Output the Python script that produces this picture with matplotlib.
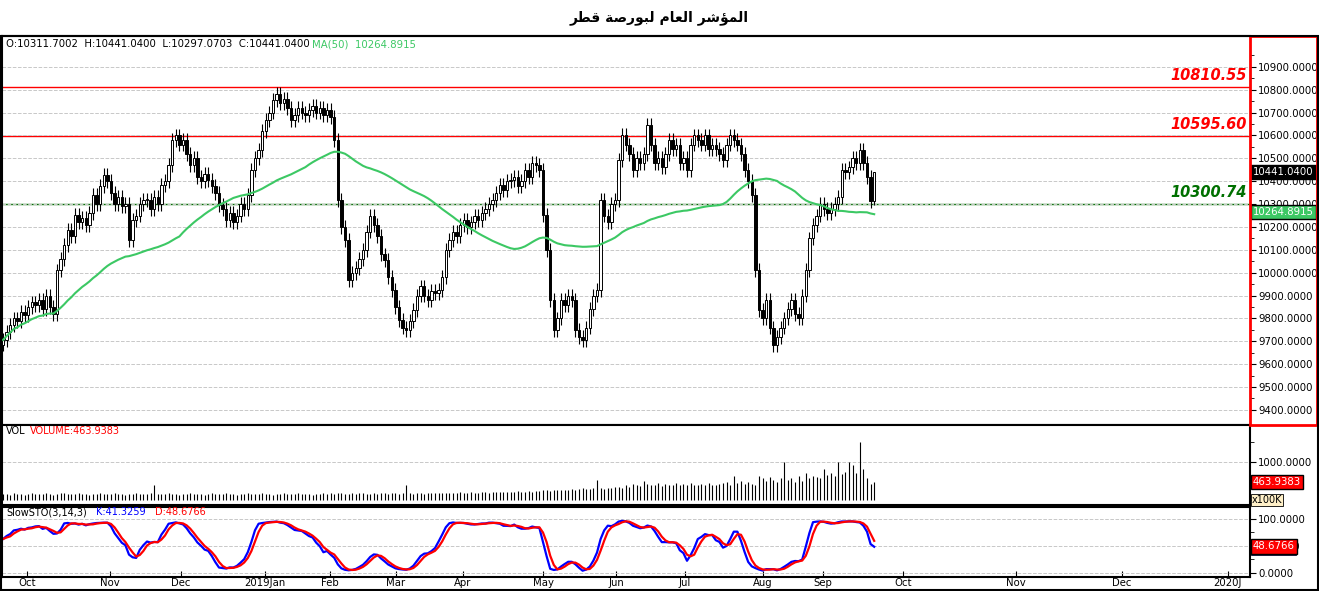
import numpy as np
import pandas as pd
import matplotlib
matplotlib.use("Agg")
import matplotlib.pyplot as plt
from matplotlib.patches import Rectangle

# daily closes, late Sep 2018 -> Sep 2019
closes = [
    9706, 9740, 9770, 9800, 9790, 9830, 9815, 9850, 9870, 9860,
    9880, 9840, 9900, 9850, 9820, 10010, 10060, 10120, 10187, 10160,
    10253, 10220, 10240, 10210, 10260, 10340, 10300, 10380, 10428, 10400,
    10350, 10300, 10330, 10290, 10300, 10143, 10230, 10250, 10300, 10318,
    10320, 10280, 10330, 10300, 10384, 10400, 10470, 10580, 10600, 10560,
    10580, 10520, 10470, 10500, 10420, 10400, 10430, 10406, 10380, 10350,
    10296, 10280, 10230, 10260, 10220, 10250, 10300, 10280, 10340, 10450,
    10500, 10537, 10620, 10668, 10700, 10756, 10780, 10740, 10760, 10720,
    10668, 10690, 10720, 10700, 10690, 10712, 10730, 10700, 10720, 10690,
    10712, 10680, 10580, 10318, 10200, 10143, 9969, 10000, 10020, 10060,
    10100, 10180, 10250, 10210, 10160, 10080, 10056, 9980, 9925, 9850,
    9794, 9760, 9750, 9790, 9838, 9900, 9940, 9900, 9880, 9920,
    9910, 9925, 9980, 10100, 10143, 10180, 10160, 10210, 10230, 10200,
    10220, 10250, 10230, 10260, 10280, 10300, 10318, 10350, 10384, 10360,
    10400, 10406, 10420, 10380, 10400, 10450, 10420, 10480, 10470, 10450,
    10253, 10100, 9881, 9750, 9800, 9880, 9860, 9900, 9880, 9750,
    9720, 9706, 9760, 9840, 9900, 9925, 10318, 10250, 10220, 10300,
    10318, 10493, 10603, 10560, 10520, 10450, 10500, 10480, 10520, 10646,
    10560, 10480, 10500, 10460, 10520, 10580, 10540, 10560, 10480, 10500,
    10450, 10560, 10600, 10580, 10560, 10600, 10540, 10560, 10540, 10520,
    10493, 10560, 10600, 10580, 10560, 10520, 10450, 10400, 10340, 10012,
    9838, 9800, 9880, 9760, 9684, 9720, 9760, 9800, 9840, 9880,
    9820, 9800, 9900, 10012, 10150, 10210, 10250, 10300, 10280, 10260,
    10280, 10300, 10330, 10450, 10440, 10460, 10500, 10480, 10537, 10480,
    10420, 10311.7, 10441.04,
]
volumes = [
    150, 160, 140, 170, 150, 160, 140, 150, 170, 160,
    150, 160, 170, 150, 140, 160, 170, 180, 160, 150,
    160, 170, 150, 160, 140, 150, 160, 170, 150, 160,
    150, 170, 160, 150, 140, 160, 150, 170, 160, 150,
    160, 170, 400, 160, 150, 160, 170, 150, 160, 140,
    150, 160, 170, 150, 160, 150, 140, 160, 170, 150,
    160, 150, 170, 160, 150, 140, 160, 150, 170, 160,
    150, 160, 170, 150, 160, 140, 150, 160, 170, 150,
    160, 150, 170, 160, 150, 160, 140, 150, 160, 170,
    160, 170, 150, 180, 170, 160, 150, 170, 160, 180,
    170, 160, 150, 170, 160, 180, 170, 160, 180, 170,
    160, 180, 400, 170, 160, 180, 170, 160, 180, 170,
    180, 170, 190, 180, 170, 190, 180, 200, 190, 180,
    200, 190, 180, 200, 210, 190, 200, 210, 220, 200,
    210, 220, 200, 230, 210, 220, 230, 220, 240, 230,
    260, 250, 240, 260, 250, 270, 260, 250, 280, 270,
    280, 300, 290, 280, 300, 520, 300, 290, 310, 300,
    330, 350, 320, 400, 340, 420, 380, 360, 500, 420,
    380, 400, 440, 360, 420, 400, 380, 430, 400, 420,
    380, 440, 400, 380, 420, 400, 440, 380, 400, 420,
    440, 480, 400, 620, 450, 500, 420, 460, 420, 400,
    620, 560, 500, 600, 520, 480, 580, 1000, 520, 560,
    480, 620, 500, 700, 560, 620, 600, 560, 800, 640,
    700, 620, 1000, 680, 720, 1000, 900, 700, 1500, 800,
    560, 420, 463.94,
]
month_labels = ["Oct", "Nov", "Dec", "2019Jan", "Feb", "Mar", "Apr", "May", "Jun",
                "Jul", "Aug", "Sep", "Oct", "Nov", "Dec", "2020J"]
month_px = [27, 110, 181, 265, 330, 396, 463, 543, 616, 685, 763, 823, 903, 1016, 1122, 1228]
levels = [10810.55, 10595.60, 10300.74]
level_colors = ["#ff0000", "#ff0000", "#007000"]
TITLE = "ﺮﻄﻗ ﺔﺻﺭﻮﺒﻟ ﻡﺎﻌﻟﺍ ﺮﺷﺆﻤﻟﺍ"

W, H = 1319, 591
STEP = 3.6
n = len(closes)
x = np.arange(n)
c = np.array(closes, dtype=float)
o = np.r_[c[0] - 20, c[:-1]]
hi = np.maximum(o, c) + 30
lo = np.minimum(o, c) - 30
hi[-1], lo[-1] = 10441.04, 10297.07
s = pd.Series(c)
ma = s.rolling(50, min_periods=1).mean().values
ma_last = 10264.8915

hh = pd.Series(hi).rolling(14, min_periods=1).max()
ll = pd.Series(lo).rolling(14, min_periods=1).min()
fast = ((s - ll) / (hh - ll) * 100).fillna(50)
k = fast.rolling(3, min_periods=1).mean()
d = k.rolling(3, min_periods=1).mean()

def px2x(p):
    return (p - 3) / STEP

xmin, xmax = px2x(2), px2x(1250)
FS = 7.3

fig = plt.figure(figsize=(W / 100, H / 100), dpi=100)
fig.patch.set_facecolor("white")

def mk(top, bottom):
    return fig.add_axes([2 / W, 1 - bottom / H, 1248 / W, (bottom - top) / H])

ax = mk(36, 425)
axv = mk(425, 505)
axs = mk(507, 577)

for a in (ax, axv, axs):
    a.set_xlim(xmin, xmax)
    a.yaxis.tick_right()
    a.tick_params(axis="y", direction="out", length=4, labelsize=FS, pad=2)
    a.set_xticks([px2x(p) for p in month_px])
    a.tick_params(axis="x", length=0, labelbottom=False)
    a.grid(True, axis="y", color="#c8c8c8", linestyle="--", linewidth=0.7)
    a.grid(False, axis="x")
    for sp in a.spines.values():
        sp.set_linewidth(1.5)

# main price panel
ax.set_ylim(9334, 11035)
ax.set_yticks(np.arange(9400, 10901, 100))
ax.set_yticklabels([f"{v:.4f}" for v in np.arange(9400, 10901, 100)])
ax.set_yticks(np.arange(9450, 10951, 100), minor=True)
ax.tick_params(axis="y", which="minor", length=3, direction="out")
for i in range(n):
    up = c[i] >= o[i]
    ax.vlines(x[i], lo[i], hi[i], color="black", linewidth=0.8, zorder=2)
    b0, b1 = min(o[i], c[i]), max(o[i], c[i])
    ax.add_patch(Rectangle((x[i] - 0.35, b0), 0.7, max(b1 - b0, 3),
                           facecolor="white" if up else "black",
                           edgecolor="black", linewidth=0.7, zorder=3))
ax.plot(x, ma, color="#3cc864", linewidth=1.5, zorder=4)
for lv, col in zip(levels, level_colors):
    ax.axhline(lv, color=col, linewidth=1.0, zorder=1)
    ax.text(px2x(1247), lv + 18, f"{lv:.2f}", color=col, fontsize=10.5, fontweight="bold",
            fontstyle="italic", ha="right", va="bottom")
ax.text(xmax + 0.8, c[-1], f"{c[-1]:.4f}", color="white", fontsize=FS, va="center", ha="left",
        bbox=dict(boxstyle="square,pad=0.2", fc="black", ec="black"), clip_on=False)
ax.text(xmax + 0.8, ma_last, f"{ma_last:.4f}", color="white", fontsize=FS, va="center", ha="left",
        bbox=dict(boxstyle="square,pad=0.2", fc="#3cc864", ec="black"), clip_on=False)
ax.text(px2x(6), 11000, "O:10311.7002  H:10441.0400  L:10297.0703  C:10441.0400",
        fontsize=7.3, color="black", va="center")
ax.text(px2x(312), 11000, "MA(50)  10264.8915", fontsize=7.3, color="#3cc864", va="center")
ax.spines["right"].set_visible(False)
fig.add_artist(Rectangle((1250 / W, 1 - 425 / H), 67 / W, 389 / H, transform=fig.transFigure,
                         fill=False, edgecolor="red", linewidth=2))

# volume panel
axv.set_ylim(-130, 1950)
axv.set_yticks([1000])
axv.set_yticklabels(["1000.0000"])
axv.set_yticks([0, 500, 1500], minor=True)
axv.tick_params(axis="y", which="minor", length=3, direction="out")
axv.vlines(x, 0, volumes, color="black", linewidth=0.8)
axv.text(px2x(6), 1800, "VOL", fontsize=7, va="center")
axv.text(px2x(30), 1800, "VOLUME:463.9383", fontsize=7, color="red", va="center")
axv.text(xmax + 0.8, 464, "463.9383", color="white", fontsize=FS, va="center", ha="left",
         bbox=dict(boxstyle="square,pad=0.2", fc="red", ec="black"), clip_on=False)
axv.text(xmax + 0.5, 0, "x100K", fontsize=7, va="center", ha="left",
         bbox=dict(boxstyle="square,pad=0.1", fc="#fff0c8", ec="black", lw=0.6), clip_on=False)

# stochastic panel
axs.set_ylim(-8, 122)
axs.set_yticks([0, 50, 100])
axs.set_yticklabels(["0.0000", "50.0000", "100.0000"])
axs.set_yticks([25, 75], minor=True)
axs.tick_params(axis="y", which="minor", length=3, direction="out")
axs.plot(x, k, color="#0000ff", linewidth=1.6)
axs.plot(x, d, color="#ff0000", linewidth=1.6)
axs.text(px2x(6), 112, "SlowSTO(3,14,3)", fontsize=7, va="center")
axs.text(px2x(96), 112, "K:41.3259", fontsize=7, color="#0000ff", va="center")
axs.text(px2x(155), 112, "D:48.6766", fontsize=7, color="red", va="center")
axs.text(xmax + 0.8, 48.68, "48.6766", color="white", fontsize=FS, va="center", ha="left",
         bbox=dict(boxstyle="square,pad=0.2", fc="red", ec="black"), clip_on=False)
axs.add_patch(Rectangle((xmax + 0.4, 33), 12.5, 5, facecolor="#0000ff", edgecolor="black",
                        linewidth=0.5, clip_on=False))
axs.tick_params(axis="x", length=4, direction="in", labelbottom=True, labelsize=7.3, pad=1)
axs.set_xticklabels(month_labels)

fig.add_artist(Rectangle((1 / W, 1 / H), 1317 / W, 554 / H, transform=fig.transFigure,
                         fill=False, edgecolor="black", linewidth=1.5))
fig.text(0.5, 1 - 18 / H, TITLE, ha="center", va="center", fontsize=10, fontweight="bold",
         family=["DejaVu Sans"])

fig.savefig("out.png", dpi=100)
